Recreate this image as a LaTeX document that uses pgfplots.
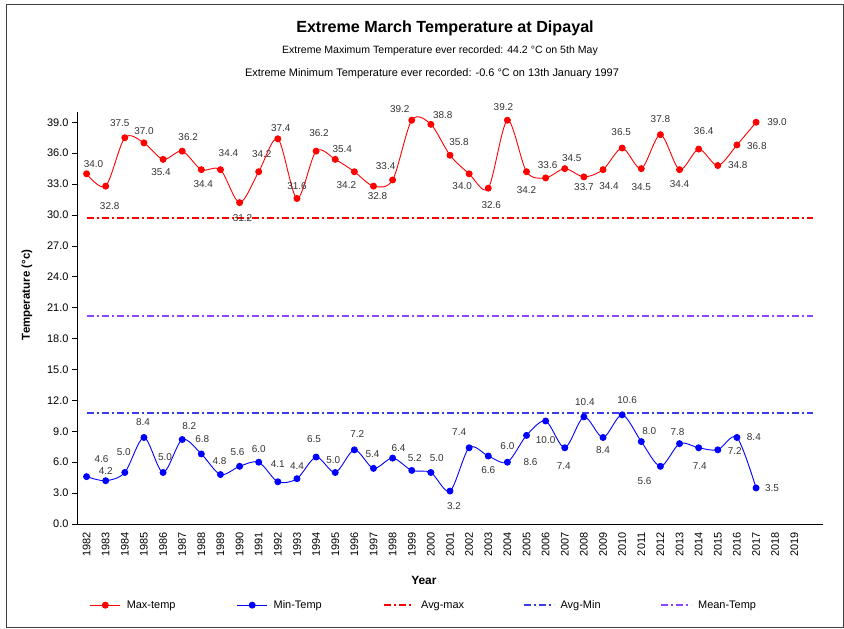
\documentclass[border=0pt]{standalone}
\usepackage{pgfplots}
\pgfplotsset{compat=1.18}
\usepackage{pgfplotstable}
\usepackage{fontspec}
\setmainfont{Liberation Sans}

\definecolor{avgmin}{RGB}{60,60,230}
\definecolor{meantemp}{RGB}{140,70,255}
\definecolor{lbl}{RGB}{51,51,51}

\pgfplotstableread{
x max mdx mdy
0 34.0 7 10
1 32.8 4 -20
2 37.5 -5 15
3 37.0 0 12
4 35.4 -2 -13
5 36.2 6 14
6 34.4 2 -14
7 34.4 8 17
8 31.2 3 -16
9 34.2 3 18
10 37.4 3 11
11 31.6 0 12
12 36.2 3 18
13 35.4 7 10
14 34.2 -8 -13
15 32.8 4 -10
16 33.4 -7 14
17 39.2 -12 11
18 38.8 12 9
19 35.8 9 13
20 34.0 -7 -12
21 32.6 3 -17
22 39.2 -4 13
23 34.2 0 -18
24 33.6 2 13
25 34.5 7 11
26 33.7 0 -10
27 34.4 6 -16
28 36.5 -1 16
29 34.5 0 -18
30 37.8 0 16
31 34.4 0 -14
32 36.4 5 18
33 34.8 20 0
34 36.8 20 -1
35 39.0 21 0
}\maxdata

\pgfplotstableread{
x min ndx ndy
0 4.6 15 18
1 4.2 0 10
2 5.0 -1 21
3 8.4 -1 15
4 5.0 2 15
5 8.2 7 14
6 6.8 1 15
7 4.8 -1 14
8 5.6 -2 14
9 6.0 0 13
10 4.1 0 18
11 4.4 0 13
12 6.5 -2 18
13 5.0 -2 12
14 7.2 3 16
15 5.4 -1 14
16 6.4 6 10
17 5.2 3 12
18 5.0 6 14
19 3.2 4 -15
20 7.4 -10 16
21 6.6 0 -14
22 6.0 0 16
23 8.6 4 -27
24 10.0 0 -19
25 7.4 -1 -18
26 10.4 1 15
27 8.4 0 -13
28 10.6 5 15
29 8.0 8 11
30 5.6 -16 -15
31 7.8 -2 12
32 7.4 1 -18
33 7.2 17 -1
34 8.4 17 0
35 3.5 16 0
}\mindata

\begin{document}
\begin{tikzpicture}[x=1bp,y=1bp]
\useasboundingbox (0,0) rectangle (844,629);
\draw[black!75, line width=0.8bp] (6,2) rectangle (843,625);

\begin{axis}[
  at={(77bp,105bp)}, anchor=south west,
  scale only axis, width=746bp, height=412bp,
  xmin=-0.5, xmax=38.5, ymin=0, ymax=40,
  axis x line*=bottom, axis y line*=left,
  axis line style={-, black, line width=0.7bp},
  clip=false,
  tick align=outside,
  major tick length=5bp, minor tick length=5bp,
  tick style={black, line width=0.7bp},
  xtick={0,...,37},
  xticklabel={\pgfmathtruncatemacro\yr{\tick+1982}\yr},
  x tick style={draw=none},
  minor xtick={-0.5,0.5,...,38.5},
  minor x tick style={black, line width=0.7bp},
  ytick={0,3,...,39},
  /pgf/number format/assume math mode=true,
  yticklabel style={/pgf/number format/fixed, /pgf/number format/fixed zerofill, /pgf/number format/precision=1, font=\fontsize{11}{13}\selectfont},
  xticklabel style={rotate=90, anchor=east, font=\fontsize{11}{13}\selectfont},
  xlabel={Year},
  ylabel={Temperature (°c)},
  every axis x label/.style={at={(axis description cs:0.465,-0.136)}, anchor=center, font=\bfseries\fontsize{12}{14}\selectfont},
  every axis y label/.style={at={(axis description cs:-0.067,0.556)}, rotate=90, anchor=center, font=\bfseries\fontsize{11.5}{14}\selectfont},
  legend columns=5,
  legend style={at={(axis description cs:0.017,-0.197)}, anchor=west, draw=none, fill=none,
    inner sep=0pt, column sep=4bp, font=\fontsize{11}{13}\selectfont},
  legend cell align=left,
]

\addplot[color=red, line width=0.9bp, smooth, mark=*, mark size=3bp, mark options={solid, fill=red},
  legend image code/.code={\draw[red, line width=0.9bp] (0bp,0bp) -- (30bp,0bp); \fill[red] (15bp,0bp) circle[radius=3bp];},
  point meta=y,
  visualization depends on={\thisrow{mdx}\as\ldx},
  visualization depends on={\thisrow{mdy}\as\ldy},
  nodes near coords={\pgfmathprintnumber[fixed,fixed zerofill,precision=1]{\pgfplotspointmeta}},
  nodes near coords align={anchor=center},
  nodes near coords style={anchor=center, xshift=\ldx pt, yshift=\ldy pt, text=lbl, font=\fontsize{10}{12}\selectfont, inner sep=0pt},
] table[x=x, y=max] {\maxdata};
\addlegendentry{\makebox[104bp][l]{Max-temp}}

\addplot[color=blue, line width=0.9bp, smooth, mark=*, mark size=3bp, mark options={solid, fill=blue},
  legend image code/.code={\draw[blue, line width=0.9bp] (0bp,0bp) -- (30bp,0bp); \fill[blue] (15bp,0bp) circle[radius=3bp];},
  point meta=y,
  visualization depends on={\thisrow{ndx}\as\ldx},
  visualization depends on={\thisrow{ndy}\as\ldy},
  nodes near coords={\pgfmathprintnumber[fixed,fixed zerofill,precision=1]{\pgfplotspointmeta}},
  nodes near coords align={anchor=center},
  nodes near coords style={anchor=center, xshift=\ldx pt, yshift=\ldy pt, text=lbl, font=\fontsize{10}{12}\selectfont, inner sep=0pt},
] table[x=x, y=min] {\mindata};
\addlegendentry{\makebox[104bp][l]{Min-Temp}}

\addplot[color=red, line width=1.5bp, dash pattern=on 7bp off 3bp on 2bp off 3bp,
  legend image code/.code={\draw[draw=red, line width=1.5bp, dash pattern=on 7bp off 3bp on 2bp off 3bp] (0bp,0bp) -- (30bp,0bp);},
] coordinates {(0,29.7) (38,29.7)};
\addlegendentry{\makebox[96bp][l]{Avg-max}}

\addplot[color=avgmin, line width=1.5bp, dash pattern=on 7bp off 3bp on 2bp off 3bp,
  legend image code/.code={\draw[draw=avgmin, line width=1.5bp, dash pattern=on 7bp off 3bp on 2bp off 3bp] (0bp,0bp) -- (30bp,0bp);},
] coordinates {(0,10.8) (38,10.8)};
\addlegendentry{\makebox[94bp][l]{Avg-Min}}

\addplot[color=meantemp, line width=1.5bp, dash pattern=on 7bp off 3bp on 2bp off 3bp,
  legend image code/.code={\draw[draw=meantemp, line width=1.5bp, dash pattern=on 7bp off 3bp on 2bp off 3bp] (0bp,0bp) -- (30bp,0bp);},
] coordinates {(0,20.2) (38,20.2)};
\addlegendentry{Mean-Temp}
\end{axis}

\node[font=\bfseries\fontsize{16.2}{19}\selectfont] at (445,601) {Extreme March Temperature at Dipayal};
\node[font=\fontsize{10.6}{13}\selectfont] at (440,578) {Extreme Maximum Temperature ever recorded: 44.2 °C on 5th May};
\node[font=\fontsize{11}{13}\selectfont] at (432,555) {Extreme Minimum Temperature ever recorded: -0.6 °C on 13th January 1997};
\end{tikzpicture}
\end{document}
